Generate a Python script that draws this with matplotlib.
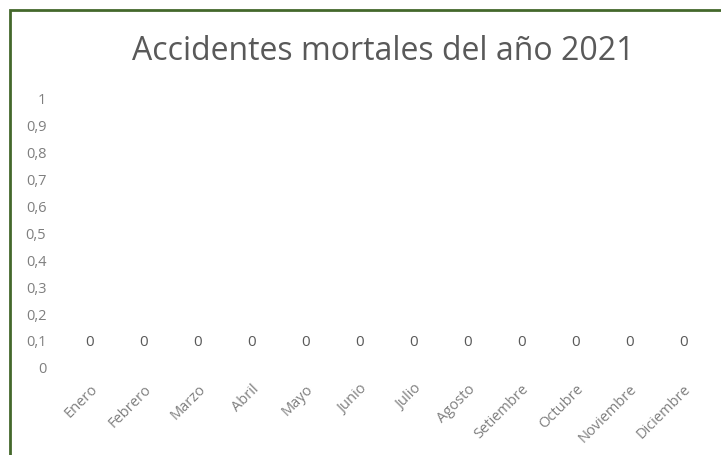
import matplotlib.pyplot as plt
from matplotlib.patches import Rectangle
from matplotlib.ticker import FuncFormatter

# datos del grafico
meses = ['Enero', 'Febrero', 'Marzo', 'Abril', 'Mayo', 'Junio', 'Julio',
         'Agosto', 'Setiembre', 'Octubre', 'Noviembre', 'Diciembre']
accidentes = [0, 0, 0, 0, 0, 0, 0, 0, 0, 0, 0, 0]
titulo = 'Accidentes mortales del año 2021'

plt.rcParams['font.family'] = ['Open Sans', 'DejaVu Sans']
gris = '#595959'
gris_claro = '#7f7f7f'

fig = plt.figure(figsize=(7.21, 4.56), dpi=100)
ax = fig.add_axes([0.0874, 0.193, 0.8976, 0.592])

x = range(len(meses))
ax.bar(x, accidentes, width=0.6, color='#4472c4')
for i, v in zip(x, accidentes):
    ax.annotate(str(v), (i, v), xytext=(0, 18), textcoords='offset points',
                ha='center', va='center', fontsize=11, color=gris)

ax.set_xlim(-0.5, len(meses) - 0.5)
ax.set_ylim(0, 1)
ax.set_yticks([i / 10 for i in range(11)])
ax.yaxis.set_major_formatter(FuncFormatter(
    lambda v, p: ('%g' % round(v, 1)).replace('.', ',')))
ax.set_xticks(list(x))
ax.set_xticklabels(meses, rotation=45, ha='right', rotation_mode='anchor')
ax.tick_params(axis='both', length=0, colors=gris_claro, labelsize=10.5)
ax.tick_params(axis='y', pad=12)
ax.tick_params(axis='x', pad=10)
for s in ax.spines.values():
    s.set_visible(False)

fig.text(0.531, 0.887, titulo, ha='center', va='center',
         fontsize=23, color=gris)

# borde verde del grafico
fig.patches.append(Rectangle((10 / 721, -0.1), 1.2, 1.1 - 11 / 456,
                             transform=fig.transFigure, fill=False,
                             edgecolor='#44682b', linewidth=2))

fig.savefig('out.png', dpi=100)
